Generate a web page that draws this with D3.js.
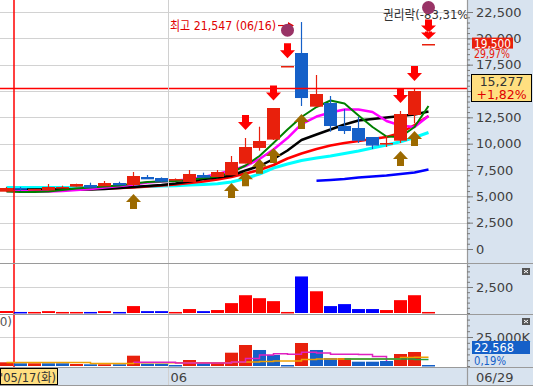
<!DOCTYPE html>
<html>
<head>
<meta charset="utf-8">
<script src="https://cdn.jsdelivr.net/npm/d3@7"></script>
<style>
  body { margin: 0; background: #fff; overflow: hidden; }
  svg { display: block; font-family: "DejaVu Sans", "Noto Sans CJK KR", sans-serif; }
</style>
</head>
<body>
<div id="chart"></div>
<script>
// daily candles, 2011-05-17 .. 2011-06-29
const dates = ["05/17","05/18","05/19","05/20","05/23","05/24","05/25","05/26","05/27","05/30",
  "05/31","06/01","06/02","06/03","06/07","06/08","06/09","06/10","06/13","06/14",
  "06/15","06/16","06/17","06/20","06/21","06/22","06/23","06/24","06/27","06/28","06/29"];
const opens  = [5410,5760,5600,5540,5790,5915,6080,5980,6295,6075,6865,6740,6550,6390,7025,6835,7025,8135,9620,10350,17350,18640,13510,13890,11705,11490,10630,9940,10280,12720,19500];
const highs  = [5890,5890,5700,6170,6010,6200,6295,6455,6390,7310,7025,6800,6700,7500,7245,7500,8830,10540,11610,13350,17350,21547,16520,14525,13290,12530,10630,10730,13100,15190,19500];
const lows   = [5410,5550,5600,5540,5790,5915,5820,5980,6075,5980,6645,6390,6550,6390,6770,6835,7025,8135,9330,10350,17350,13575,13510,11135,10920,10065,9495,9685,10065,11960,19500];
const closes = [5760,5600,5700,5860,5915,6170,5820,6295,6075,6930,6645,6390,6645,7150,6770,7310,8290,9710,10280,13350,17350,14365,14715,11705,11230,10280,9810,10090,12815,15000,19500];

// moving averages (price)
const maGreen   = [5458,5411,5411,5458,5601,5743,5838,5933,6028,6218,6360,6408,6455,6550,6740,6882,7262,7927,8828,10063,11344,12531,13480,14097,13812,12673,11581,10680,10632,11581,13575];
const maMagenta = [5506,5506,5458,5458,5506,5601,5696,5838,5981,6123,6313,6408,6503,6598,6835,7120,7452,7879,8544,9446,10537,11866,12578,12958,13243,13243,13005,12151,11724,11581,12626];
const maBlack   = [5648,5648,5648,5648,5648,5648,5648,5696,5791,5886,5981,6076,6218,6408,6645,6787,6977,7452,7879,8544,9351,10347,10869,11344,11819,12199,12341,12483,12626,12768,13053];
const maRed     = [5553,5553,5601,5601,5648,5696,5696,5743,5791,5838,5933,6028,6123,6265,6408,6598,6835,7167,7499,7974,8591,9066,9493,9825,10063,10252,10442,10632,11012,11771,12626];
const maCyan    = [5838,5838,5838,5838,5838,5838,5838,5857,5886,5905,5933,5981,6009,6076,6123,6199,6360,6693,7120,7689,8069,8401,8639,8828,9066,9303,9588,9873,10186,10585,11059];
const maBlue    = [null,null,null,null,null,null,null,null,null,null,null,null,null,null,null,null,null,null,null,null,null,null,6484,6550,6645,6788,6882,6977,7120,7262,7547];

// volume
const volumes = [190,100,100,180,100,100,100,180,100,665,180,180,100,380,180,285,950,1710,1425,1140,100,3515,2090,665,855,380,380,285,1235,1710,100];

// trading value (K) and its averages
const amounts = [3190,2330,2330,2330,2330,1720,1470,1470,1470,8880,1980,1980,860,5170,2330,3450,11470,18100,13800,9480,860,19830,13800,6900,6900,3710,3710,4310,10340,12070,860];
const amountDir = ["u","d","u","d","d","u","d","u","d","u","d","d","d","u","d","u","u","u","d","d","d","u","d","d","u","d","d","d","u","u","d"];
const amtMagenta = [null,null,null,null,null,null,null,null,null,3190,3190,3190,2586,2586,2586,2586,3448,6465,9482,10600,10085,11810,11206,10085,10085,9913,8189,4310,null,null,null];
const amtOrange  = [3017,3017,3017,3017,3017,3017,2155,2155,2155,2845,2845,2845,2845,2845,2845,2845,3190,3448,3879,4310,4310,5603,6034,6034,6034,6034,6034,6034,7327,7500,7500];
const amtGreen   = [null,null,null,null,null,null,null,null,null,null,null,null,null,null,null,null,null,null,null,null,null,null,null,null,6034,6034,6034,6034,6034,5600,5600];

// signals
const buySignals  = [9,16,17,18,19,21,28,29];
const sellSignals = [17,19,20,28,29];
const doubleSell  = [30];
const eventMarks  = [20,30];

const priceTicks  = [0,2500,5000,7500,10000,12500,15000,17500,20000,22500];
const volTicks    = [2500];
const amtTicks    = [25000];

const W = 533, H = 386, plotR = 467;
const UP = "#e8200c", DOWN = "#1560c8";

const svg = d3.select("#chart").append("svg").attr("width", W).attr("height", H);

const x = d3.scaleBand().domain(dates).range([0, 14.07 * (dates.length - 0.07)])
  .paddingInner(0.07).paddingOuter(0);
const left = d => Math.round(x(d));
const cx = d => left(d) + 6.5;

const y = d3.scaleLinear().domain([0, 22500]).range([249, 12]);
const yVol = d3.scaleLinear().domain([0, 2500]).range([313, 287]);
const yAmt = d3.scaleLinear().domain([0, 25000]).range([366, 337]);

// backgrounds
svg.append("rect").attr("x", plotR).attr("y", 0).attr("width", W - plotR).attr("height", H).attr("fill", "#d8e3ef");
svg.append("rect").attr("x", 0).attr("y", 367).attr("width", plotR).attr("height", 19).attr("fill", "#d8e3ef");

svg.append("clipPath").attr("id", "clipMain").append("rect").attr("x", 0).attr("y", 0).attr("width", plotR).attr("height", 262);

const main = svg.append("g").attr("clip-path", "url(#clipMain)");

// grid
main.selectAll(".hg").data(priceTicks).enter().append("line")
  .attr("x1", 0).attr("x2", plotR)
  .attr("y1", d => Math.round(y(d)) + 0.5).attr("y2", d => Math.round(y(d)) + 0.5)
  .attr("stroke", "#d2d2d2");
svg.selectAll(".vg").data(volTicks).enter().append("line")
  .attr("x1", 0).attr("x2", plotR)
  .attr("y1", d => Math.round(yVol(d)) + 0.5).attr("y2", d => Math.round(yVol(d)) + 0.5)
  .attr("stroke", "#d2d2d2");
svg.selectAll(".ag").data(amtTicks).enter().append("line")
  .attr("x1", 0).attr("x2", plotR)
  .attr("y1", d => Math.round(yAmt(d)) + 0.5).attr("y2", d => Math.round(yAmt(d)) + 0.5)
  .attr("stroke", "#d2d2d2");

// month separator (06)
const monthX = left("06/01") + 13.5;
svg.append("line").attr("x1", monthX).attr("x2", monthX).attr("y1", 0).attr("y2", 386)
  .attr("stroke", "#d0d0d0");

// moving averages
const line = d3.line().defined(v => v != null).x((v, i) => cx(dates[i])).y(v => y(v));
const maSpecs = [
  [maCyan, "#00ffff", 3], [maBlue, "#0000ff", 2.5], [maRed, "#ff0000", 2.5],
  [maBlack, "#000000", 2.5], [maMagenta, "#ff00ff", 2.5], [maGreen, "#008000", 2]
];
maSpecs.forEach(([vals, col, w]) => {
  main.append("path").datum(vals).attr("d", line)
    .attr("fill", "none").attr("stroke", col).attr("stroke-width", w)
    .attr("stroke-linejoin", "round");
});

// candles
const candles = main.selectAll(".c").data(dates).enter().append("g");
candles.append("line")
  .attr("x1", d => cx(d)).attr("x2", d => cx(d))
  .attr("y1", (d, i) => y(highs[i])).attr("y2", (d, i) => y(lows[i]))
  .attr("stroke", (d, i) => closes[i] >= opens[i] ? UP : DOWN).attr("stroke-width", 1.2);
candles.append("rect")
  .attr("x", d => left(d)).attr("width", 13)
  .attr("y", (d, i) => Math.round(y(Math.max(opens[i], closes[i]))))
  .attr("height", (d, i) => Math.max(1.5, Math.abs(y(opens[i]) - y(closes[i]))))
  .attr("fill", (d, i) => closes[i] >= opens[i] ? UP : DOWN);

// crosshair
const crossX = left("05/17") + 14;
const crossY = Math.round(y(15277)) + 0.5;
svg.append("line").attr("x1", crossX).attr("x2", crossX).attr("y1", 0).attr("y2", 367)
  .attr("stroke", "#ff0000").attr("stroke-width", 1.5);
main.append("line").attr("x1", 0).attr("x2", plotR).attr("y1", crossY).attr("y2", crossY)
  .attr("stroke", "#ff0000").attr("stroke-width", 1.5);

// signal arrows
const downArrow = (cxv, bottom) =>
  `M${cxv - 3.5},${bottom - 15}h7v7h4l-7.5,8l-7.5,-8h4z`;
const upArrow = (cxv, top) =>
  `M${cxv},${top}l7.5,8h-4v7h-7v-7h-4z`;

main.selectAll(".buy").data(buySignals).enter().append("path")
  .attr("d", i => upArrow(cx(dates[i]), y(lows[i]) + 8))
  .attr("fill", "#9c6a00");
main.selectAll(".sell").data(sellSignals).enter().append("path")
  .attr("d", i => downArrow(cx(dates[i]), y(highs[i]) - 8))
  .attr("fill", "#ff0000");
main.selectAll(".dsell").data(doubleSell).enter().append("path")
  .attr("d", i => {
    const c = cx(dates[i]), b = y(highs[i]) - 4;
    return `M${c - 3.5},${b - 20}h7v6h4l-7.5,7l-7.5,-7h4z M${c - 7.5},${b - 7}l7.5,7l7.5,-7h-4v-1h-7v1z`;
  })
  .attr("fill", "#ff0000");

// high annotation
const hiIdx = highs.indexOf(d3.max(highs));
const hiY = y(highs[hiIdx]) + 3.5;
const hiX = left(dates[hiIdx]);
main.append("text").attr("x", hiX - 19).attr("y", hiY).attr("dy", "0.35em")
  .attr("text-anchor", "end").attr("fill", "#e00000").attr("font-size", 13)
  .attr("textLength", 106).attr("lengthAdjust", "spacingAndGlyphs")
  .text("최고 " + d3.format(",")(highs[hiIdx]) + " (" + dates[hiIdx] + ")");
main.append("line").attr("x1", hiX - 17).attr("x2", hiX - 5).attr("y1", hiY).attr("y2", hiY)
  .attr("stroke", "#e00000").attr("stroke-width", 1.2);
main.append("path").attr("d", `M${hiX - 7},${hiY - 3.5}l6,3.5l-6,3.5z`).attr("fill", "#e00000");

// ex-rights note
main.append("text").attr("x", 383).attr("y", 14).attr("dy", "0.35em")
  .attr("fill", "#333").attr("font-size", 13)
  .attr("textLength", 90).attr("lengthAdjust", "spacingAndGlyphs")
  .text("권리락(-83,31%)");

// event circles
main.selectAll(".ev").data(eventMarks).enter().append("circle")
  .attr("cx", i => cx(dates[i]))
  .attr("cy", i => y(highs[i]) - 36)
  .attr("r", 6.5).attr("fill", "#993366");

// volume bars
svg.selectAll(".vb").data(dates).enter().append("rect")
  .attr("x", d => left(d)).attr("width", 13)
  .attr("y", (d, i) => yVol(volumes[i])).attr("height", (d, i) => Math.max(1.5, 313 - yVol(volumes[i])))
  .attr("fill", (d, i) => closes[i] >= opens[i] ? "#ff0000" : "#0000ff");

// amount bars
svg.selectAll(".ab").data(dates).enter().append("rect")
  .attr("x", d => left(d)).attr("width", 13)
  .attr("y", (d, i) => yAmt(amounts[i])).attr("height", (d, i) => Math.max(1.5, 366 - yAmt(amounts[i])))
  .attr("fill", (d, i) => amountDir[i] === "u" ? UP : DOWN);

const aline = d3.line().defined(v => v != null).x((v, i) => cx(dates[i])).y(v => yAmt(v))
  .curve(d3.curveStepAfter);
[[amtOrange, "#f0a000"], [amtMagenta, "#e020c0"], [amtGreen, "#20a040"]].forEach(([vals, col]) => {
  svg.append("path").datum(vals).attr("d", aline)
    .attr("fill", "none").attr("stroke", col).attr("stroke-width", 1.5);
});

// panel borders
[263, 314, 367, 385].forEach(v => {
  svg.append("line").attr("x1", 0).attr("x2", W).attr("y1", v + 0.5).attr("y2", v + 0.5)
    .attr("stroke", "#9a9a9a").attr("stroke-width", 1.2);
});
svg.append("line").attr("x1", plotR + 0.5).attr("x2", plotR + 0.5).attr("y1", 0).attr("y2", H)
  .attr("stroke", "#9a9a9a").attr("stroke-width", 1.2);

// right axes
function styleAxis(g) {
  g.select(".domain").remove();
  g.selectAll(".tick line").attr("stroke", "#7a7a7a");
  g.selectAll(".tick text").attr("fill", "#404040").attr("font-size", 13)
    .attr("font-family", "DejaVu Sans");
}
// the crosshair tag hides the 15,000 label, as in the source
const hiddenLabels = [15000];
const minorP = d3.range(0, 23000, 500);
svg.append("g").attr("transform", `translate(${plotR},0)`)
  .call(d3.axisRight(y).tickValues(minorP).tickSize(3).tickFormat(""))
  .call(styleAxis);
svg.append("g").attr("transform", `translate(${plotR},0)`)
  .call(d3.axisRight(y).tickValues(priceTicks).tickSize(6).tickPadding(3)
    .tickFormat(d => hiddenLabels.includes(d) ? "" : d3.format(",")(d)))
  .call(styleAxis);

svg.append("g").attr("transform", `translate(${plotR},0)`)
  .call(d3.axisRight(yVol).tickValues(d3.range(0, 5000, 500)).tickSize(3).tickFormat(""))
  .call(styleAxis);
svg.append("g").attr("transform", `translate(${plotR},0)`)
  .call(d3.axisRight(yVol).tickValues(volTicks).tickSize(6).tickPadding(3).tickFormat(d3.format(",")))
  .call(styleAxis);

svg.append("g").attr("transform", `translate(${plotR},0)`)
  .call(d3.axisRight(yAmt).tickValues(d3.range(0, 45000, 5000)).tickSize(3).tickFormat(""))
  .call(styleAxis);
svg.append("g").attr("transform", `translate(${plotR},0)`)
  .call(d3.axisRight(yAmt).tickValues(amtTicks).tickSize(6).tickPadding(3).tickFormat(d => d3.format(",")(d) + "K"))
  .call(styleAxis);

// last price tag
const lastY = y(closes[closes.length - 1]);
svg.append("rect").attr("x", 472).attr("y", lastY - 6).attr("width", 41).attr("height", 11).attr("fill", "#e8200c");
svg.append("text").attr("x", 474).attr("y", lastY).attr("dy", "0.36em").attr("fill", "#fff")
  .attr("font-size", 12).attr("textLength", 37).attr("lengthAdjust", "spacingAndGlyphs")
  .text(d3.format(",")(closes[closes.length - 1]));
svg.append("text").attr("x", 474).attr("y", lastY + 10).attr("dy", "0.36em").attr("fill", "#e8200c")
  .attr("font-size", 12).attr("textLength", 36).attr("lengthAdjust", "spacingAndGlyphs")
  .text("29,97%");

// crosshair value tag
svg.append("rect").attr("x", 471.5).attr("y", 74.5).attr("width", 60).attr("height", 27)
  .attr("fill", "#ffdf80").attr("stroke", "#000");
svg.append("text").attr("x", 501.5).attr("y", 81).attr("dy", "0.36em").attr("text-anchor", "middle")
  .attr("fill", "#333").attr("font-size", 12.5).text("15,277");
svg.append("text").attr("x", 501.5).attr("y", 94).attr("dy", "0.36em").attr("text-anchor", "middle")
  .attr("fill", "#e00000").attr("font-size", 12.5).text("+1,82%");

// amount value tag
svg.append("rect").attr("x", 472).attr("y", 341).attr("width", 58).attr("height", 13).attr("fill", DOWN);
svg.append("text").attr("x", 474).attr("y", 347.5).attr("dy", "0.36em").attr("fill", "#fff")
  .attr("font-size", 13).attr("textLength", 40).attr("lengthAdjust", "spacingAndGlyphs").text("22,568");
svg.append("text").attr("x", 474).attr("y", 360).attr("dy", "0.36em").attr("fill", DOWN)
  .attr("font-size", 13).attr("textLength", 32).attr("lengthAdjust", "spacingAndGlyphs").text("0,19%");

// small close icons
[268, 318].forEach(v => {
  svg.append("rect").attr("x", 522).attr("y", v).attr("width", 8).attr("height", 7).attr("fill", "#555");
  svg.append("path").attr("d", `M524,${v + 2}l4,3M528,${v + 2}l-4,3`).attr("stroke", "#fff").attr("stroke-width", 1);
});

// left unit label of the lower panel
svg.append("text").attr("x", 12).attr("y", 322).attr("dy", "0.36em").attr("text-anchor", "end")
  .attr("fill", "#555").attr("font-size", 12).text("(1,000)");

// date strip
svg.append("rect").attr("x", 0.5).attr("y", 368.5).attr("width", 57).attr("height", 16)
  .attr("fill", "#ffdf80").attr("stroke", "#000");
svg.append("text").attr("x", 0).attr("y", 377).attr("dy", "0.36em").attr("fill", "#333")
  .attr("font-size", 12.5).attr("textLength", 56).attr("lengthAdjust", "spacingAndGlyphs")
  .text("'" + dates[0] + "(화)");
svg.append("text").attr("x", monthX + 2).attr("y", 377).attr("dy", "0.36em").attr("fill", "#404040")
  .attr("font-size", 13).text("06");
svg.append("text").attr("x", 476).attr("y", 377).attr("dy", "0.36em").attr("fill", "#404040")
  .attr("font-size", 13).text(dates[dates.length - 1]);
</script>
</body>
</html>
